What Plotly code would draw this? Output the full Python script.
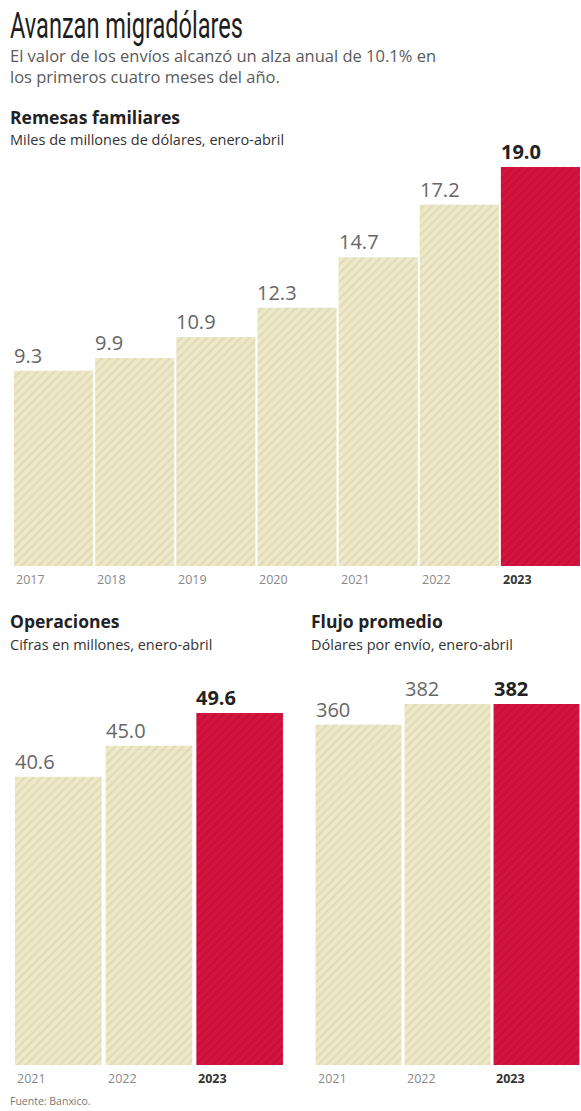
import plotly.graph_objects as go

W, H = 581, 1111

# ---- data ----
rem_years = ["2017", "2018", "2019", "2020", "2021", "2022", "2023"]
rem_values = [9.3, 9.9, 10.9, 12.3, 14.7, 17.2, 19.0]
rem_labels = ["9.3", "9.9", "10.9", "12.3", "14.7", "17.2", "19.0"]

ops_years = ["2021", "2022", "2023"]
ops_values = [40.6, 45.0, 49.6]
ops_labels = ["40.6", "45.0", "49.6"]

flu_years = ["2021", "2022", "2023"]
flu_values = [360, 382, 382]
flu_labels = ["360", "382", "382"]

# ---- styling ----
BEIGE_BG, BEIGE_FG = "#ece8c9", "#d3cc9a"
RED_BG, RED_FG = "#d3153f", "#b90830"
FONT = "Open Sans, DejaVu Sans, sans-serif"


def px_x(p):
    return p / W


def px_y(p):
    return (H - p) / H


fig = go.Figure()

panels = [
    # (years, values, labels, axis id, x-left px, x-right px, baseline px, top px, bar width)
    (rem_years, rem_values, rem_labels, "", 13, 581, 566, 167, 0.975),
    (ops_years, ops_values, ops_labels, "2", 13, 285, 1065, 713, 0.955),
    (flu_years, flu_values, flu_labels, "3", 314, 581, 1065, 704, 0.965),
]

annotations = []
for years, vals, labels, ax, xl, xr, yb, yt, bw in panels:
    n = len(vals)
    idx = list(range(n))
    groups = [(idx[:-1], BEIGE_BG, BEIGE_FG), (idx[-1:], RED_BG, RED_FG)]
    for gidx, bg, fg in groups:
        fig.add_trace(go.Bar(
            x=gidx, y=[vals[i] for i in gidx], width=bw,
            xaxis="x" + ax, yaxis="y" + ax,
            marker=dict(color=bg, line=dict(width=0),
                        pattern=dict(shape="/", bgcolor=bg, fgcolor=fg,
                                     size=6, solidity=0.33)),
            hoverinfo="skip", showlegend=False,
        ))
    fig.update_layout(**{
        "xaxis" + ax: dict(domain=[px_x(xl), px_x(xr)], range=[-0.5, n - 0.5],
                           visible=False, fixedrange=True, anchor="y" + ax),
        "yaxis" + ax: dict(domain=[px_y(yb), px_y(yt)], range=[0, max(vals)],
                           visible=False, fixedrange=True, anchor="x" + ax),
    })
    for i in idx:
        last = i == n - 1
        annotations.append(dict(
            x=i - bw / 2, y=vals[i], xref="x" + ax, yref="y" + ax,
            text=("<b>%s</b>" % labels[i]) if last else labels[i],
            showarrow=False, xanchor="left", yanchor="bottom", yshift=0, xshift=-2,
            font=dict(family=FONT, size=20, color="#222" if last else "#666"),
        ))
        annotations.append(dict(
            x=i - bw / 2, y=0, xref="x" + ax, yref="y" + ax,
            text=("<b>%s</b>" % years[i]) if last else years[i],
            showarrow=False, xanchor="left", yanchor="top", yshift=-3, xshift=0,
            font=dict(family=FONT, size=12.5, color="#333" if last else "#888"),
        ))


def txt(x, y, s, size, color, family=FONT, bold=False):
    annotations.append(dict(
        x=px_x(x), y=px_y(y), xref="paper", yref="paper",
        text=("<b>%s</b>" % s) if bold else s, showarrow=False,
        xanchor="left", yanchor="middle",
        font=dict(family=family, size=size, color=color),
    ))


txt(8, 26, "Avanzan migradólares", 36, "#1e1e1e", family="Roboto, DejaVu Sans, sans-serif")
txt(8, 55, "El valor de los envíos alcanzó un alza anual de 10.1% en", 16.5, "#5a5a5a")
txt(8, 76, "los primeros cuatro meses del año.", 16.5, "#5a5a5a")
txt(8, 117, "Remesas familiares", 17.5, "#222", bold=True)
txt(8, 139, "Miles de millones de dólares, enero-abril", 14.5, "#333")
txt(8, 621, "Operaciones", 17.5, "#222", bold=True)
txt(8, 644, "Cifras en millones, enero-abril", 14.5, "#333")
txt(309, 621, "Flujo promedio", 17.5, "#222", bold=True)
txt(309, 644, "Dólares por envío, enero-abril", 14.5, "#333")
txt(8, 1101, "Fuente: Banxico.", 10.5, "#777")

fig.update_layout(
    width=W, height=H,
    margin=dict(l=0, r=0, t=0, b=0),
    paper_bgcolor="white", plot_bgcolor="white",
    annotations=annotations,
    barmode="overlay",
)

post = """
document.body.style.margin='0';
document.body.style.padding='0';
document.body.style.overflow='hidden';
var gd = document.getElementById('{plot_id}');
gd.querySelectorAll('.annotation-text').forEach(function(t){
  if (t.textContent.indexOf('Avanzan') === 0) {
    var b = t.getBBox();
    var s = 233 / b.width;
    t.setAttribute('transform', 'translate(' + (b.x * (1 - s)) + ',0) scale(' + s + ',1)');
  }
});
"""

fig.write_html("out.html", config={"displayModeBar": False}, post_script=post)
